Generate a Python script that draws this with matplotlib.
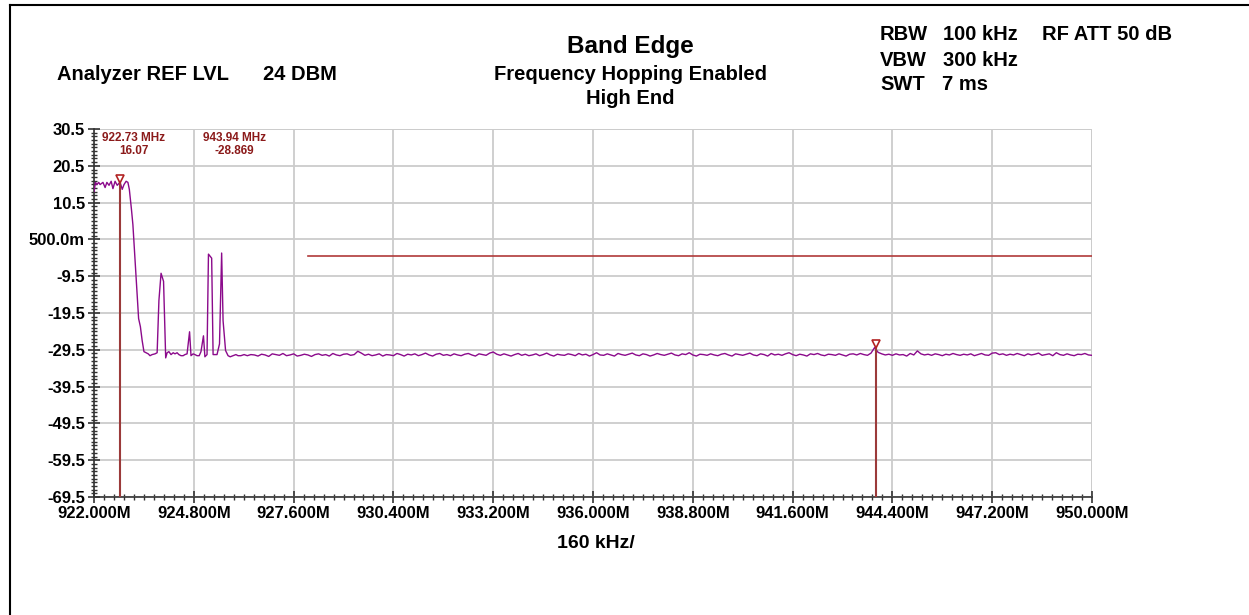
import numpy as np
import matplotlib
matplotlib.use("Agg")
import matplotlib.pyplot as plt
from matplotlib.lines import Line2D
from matplotlib.ticker import AutoMinorLocator

plt.rcParams['font.family'] = ['Liberation Sans', 'DejaVu Sans']

# trace near the carrier (MHz, dBm)
left_freq = [922.00, 922.04, 922.08, 922.13, 922.17, 922.21, 922.25, 922.31, 922.36, 922.42,
             922.48, 922.53, 922.59, 922.65, 922.73, 922.79, 922.84, 922.90, 922.95, 922.99,
             923.05, 923.09, 923.15, 923.21, 923.25, 923.30, 923.35, 923.40, 923.46, 923.52,
             923.57, 923.63, 923.71, 923.77, 923.82, 923.88, 923.95, 924.01, 924.05, 924.10,
             924.16, 924.22, 924.27, 924.33, 924.38, 924.44, 924.50, 924.55, 924.61, 924.68,
             924.72, 924.78, 924.83, 924.89, 924.95, 925.00, 925.07, 925.11, 925.17, 925.21,
             925.25, 925.30, 925.34, 925.40, 925.45, 925.52, 925.58, 925.62, 925.69, 925.76,
             925.82, 925.90, 925.98, 926.04, 926.12, 926.21]
left_level = [13.5, 16.0, 15.4, 16.0, 15.4, 15.7, 16.0, 14.6, 16.0, 15.2,
              16.3, 14.3, 16.3, 15.2, 16.07, 14.1, 15.4, 16.3, 16.0, 14.1,
              8.6, 4.5, -5.1, -14.7, -21.0, -23.2, -27.0, -30.0, -30.3, -30.6,
              -31.1, -30.8, -30.6, -30.3, -16.1, -8.7, -10.9, -31.7, -30.3, -30.0,
              -30.8, -30.3, -30.6, -30.3, -30.8, -31.1, -31.1, -30.8, -30.6, -24.6,
              -31.1, -30.6, -30.8, -31.1, -31.1, -30.0, -25.7, -31.4, -30.8, -3.5,
              -4.0, -4.6, -30.8, -30.8, -30.8, -27.9, -3.2, -21.6, -29.7, -31.1,
              -31.4, -31.1, -30.8, -31.1, -31.1, -30.8]

# noise floor, 0.1 MHz per point starting at 926.3 MHz
floor_start = 926.3
floor_step = 0.1
floor_level = [
    -31.1, -30.8, -30.9, -31.2, -30.7, -30.9, -31.3, -30.6, -30.8, -31.0,
    -30.5, -31.1, -30.9, -30.6, -31.2, -31.0, -30.7, -30.9, -31.3, -30.8,
    -30.6, -31.0, -30.8, -31.2, -30.5, -30.9, -31.1, -30.7, -30.6, -31.0,
    -30.8, -29.9, -30.4, -31.0, -30.7, -31.1, -30.9, -30.6, -31.2, -30.8,
    -30.9, -31.1, -30.5, -30.8, -31.2, -30.7, -30.9, -30.6, -31.1, -30.8,
    -30.4, -30.9, -31.2, -30.7, -30.5, -31.0, -30.8, -31.1, -30.6, -30.9,
    -31.1, -30.7, -30.5, -30.9, -31.2, -30.6, -30.8, -31.0, -30.4, -30.1,
    -30.7, -31.0, -30.6, -30.9, -31.2, -30.8, -30.5, -31.0, -30.7, -31.1,
    -30.9, -30.6, -31.1, -30.8, -30.4, -30.9, -31.2, -30.7, -30.9, -31.0,
    -30.6, -30.8, -31.1, -30.5, -30.9, -30.7, -31.2, -30.8, -30.3, -30.9,
    -31.0, -30.6, -30.9, -31.2, -30.5, -30.8, -31.0, -30.7, -30.4, -30.9,
    -31.1, -30.6, -30.8, -31.2, -30.9, -30.5, -30.8, -31.0, -30.7, -30.4,
    -30.9, -31.1, -30.6, -30.8, -30.3, -30.9, -31.2, -30.7, -30.8, -31.0,
    -30.6, -30.9, -31.1, -30.7, -30.5, -30.9, -31.2, -30.6, -30.8, -31.0,
    -30.7, -30.4, -30.9, -31.1, -30.6, -30.8, -31.2, -30.5, -30.9, -30.7,
    -31.0, -30.6, -30.3, -30.8, -31.1, -30.7, -30.9, -31.2, -30.6, -30.8,
    -30.5, -30.9, -31.1, -30.7, -30.8, -31.0, -30.6, -30.9, -31.2, -30.7,
    -30.6, -30.9, -30.5, -30.8, -31.0, -30.4, -28.9, -30.2, -30.6, -30.9,
    -30.7, -31.0, -30.6, -30.9, -30.8, -31.2, -30.5, -30.9, -29.8, -30.6,
    -30.9, -30.7, -31.0, -30.6, -30.8, -31.1, -30.7, -30.9, -30.5, -30.8,
    -31.0, -30.7, -30.9, -30.6, -31.1, -30.8, -30.5, -30.9, -31.0, -30.4,
    -30.3, -30.8, -30.6, -31.0, -30.7, -30.9, -30.5, -30.8, -31.1, -30.6,
    -30.9, -30.7, -30.4, -31.0, -30.8, -30.6, -31.1, -30.3, -30.8, -31.0,
    -30.6, -30.9, -31.1, -30.7, -30.8, -30.5, -30.9, -31.0,
]

markers_freq = [922.73, 943.94]
markers_level = [16.07, -28.869]
marker_labels = ["922.73 MHz\n16.07", "943.94 MHz\n-28.869"]
marker_label_x = [923.12, 925.94]

limit_freq = [928.0, 950.0]
limit_level = [-3.93, -3.93]

x_ticks = [922.0, 924.8, 927.6, 930.4, 933.2, 936.0, 938.8, 941.6, 944.4, 947.2, 950.0]
x_labels = ["922.000M", "924.800M", "927.600M", "930.400M", "933.200M", "936.000M",
            "938.800M", "941.600M", "944.400M", "947.200M", "950.000M"]
y_ticks = [30.5, 20.5, 10.5, 0.5, -9.5, -19.5, -29.5, -39.5, -49.5, -59.5, -69.5]
y_labels = ["30.5", "20.5", "10.5", "500.0m", "-9.5", "-19.5", "-29.5", "-39.5",
            "-49.5", "-59.5", "-69.5"]

floor_freq = np.round(floor_start + floor_step * np.arange(len(floor_level)), 2)
freq = np.concatenate([left_freq, floor_freq])
level = np.concatenate([left_level, floor_level])

trace_color = "#8B0A8B"
mark_color = "#9B3A3A"
narrow = ["Liberation Sans Narrow", "Liberation Sans"]

fig = plt.figure(figsize=(12.49, 6.15), dpi=100)
ax = fig.add_axes([0.0753, 0.1919, 0.7990, 0.5983])

ax.plot(freq, level, color=trace_color, lw=1.0, zorder=3)
ax.plot(limit_freq, limit_level, color="#B03A3A", lw=1.2, zorder=3)

for f, v in zip(markers_freq, markers_level):
    ax.plot([f, f], [-69.5, v], color=mark_color, lw=1.5, zorder=4)
    ax.plot(f, v + 0.9, marker="v", ms=6, mfc="none", mec="#B22222", mew=1.2, zorder=5)

for lx, lab in zip(marker_label_x, marker_labels):
    ax.text(lx, 29.8, lab, color="#8B1A1A", fontsize=8.5, ha="center", va="top",
            family=narrow, fontweight="bold", linespacing=1.1)

ax.set_xlim(922.0, 950.0)
ax.set_ylim(-69.5, 30.5)
ax.set_xticks(x_ticks)
ax.set_xticklabels(x_labels, fontsize=12, fontweight="bold")
ax.set_yticks(y_ticks)
ax.set_yticklabels(y_labels, fontsize=12, fontweight="bold")
ax.xaxis.set_minor_locator(AutoMinorLocator(10))
ax.yaxis.set_minor_locator(AutoMinorLocator(10))
ax.tick_params(axis="both", which="major", direction="inout", length=9, width=1.2,
               color="#333333", pad=2)
ax.tick_params(axis="both", which="minor", direction="inout", length=5, width=1.0,
               color="#333333")
ax.grid(True, which="major", color="#CCCCCC", lw=1.3, zorder=0)
ax.set_axisbelow(True)
for s in ["top", "right"]:
    ax.spines[s].set_visible(False)
for s in ["left", "bottom"]:
    ax.spines[s].set_color("#333333")
    ax.spines[s].set_linewidth(1.2)
ax.axhline(30.5, color="#CCCCCC", lw=1.3, zorder=0)
ax.axvline(950.0, color="#CCCCCC", lw=1.3, zorder=0)

# header texts
def ftxt(x, y, s, size=14.5, ha="left", **kw):
    fig.text(x / 1249, 1 - y / 615, s, fontsize=size, fontweight="bold", ha=ha, va="center", **kw)

ftxt(57, 74, "Analyzer REF LVL")
ftxt(263, 74, "24 DBM")
ftxt(630, 46, "Band Edge", size=17.5, ha="center")
ftxt(630, 74, "Frequency Hopping Enabled", ha="center")
ftxt(630, 99, "High End", ha="center")
ftxt(880, 35, "RBW")
ftxt(943, 35, "100 kHz")
ftxt(1042, 35, "RF ATT 50 dB")
ftxt(880, 60, "VBW")
ftxt(943, 60, "300 kHz")
ftxt(880, 85, "SWT")
ftxt(942, 85, "7 ms")
ftxt(596, 544, "160 kHz/", size=14, ha="center", family=narrow)

# outer frame (top and left edges visible)
fig.add_artist(Line2D([10 / 1249, 1.0], [1 - 5 / 615, 1 - 5 / 615], color="black", lw=1.5,
                      transform=fig.transFigure))
fig.add_artist(Line2D([10 / 1249, 10 / 1249], [0.0, 1 - 5 / 615], color="black", lw=1.5,
                      transform=fig.transFigure))

fig.savefig("out.png", dpi=100, facecolor="white")
